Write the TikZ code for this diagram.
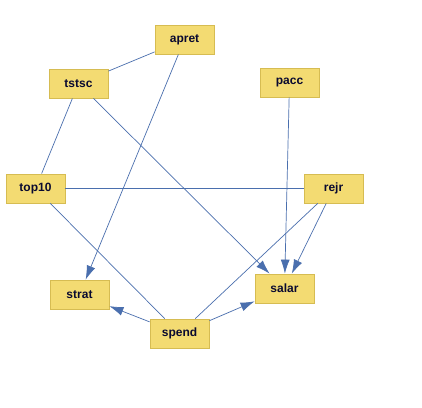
\documentclass[tikz,border=0pt]{standalone}
\usepackage{fontspec}
\setmainfont{Liberation Sans}
\usetikzlibrary{arrows.meta}
\definecolor{nodefill}{HTML}{F3DB72}
\definecolor{nodeedge}{HTML}{D6BC52}
\definecolor{edgecol}{HTML}{4A6FAE}
\definecolor{txtcol}{HTML}{0A0A30}
\begin{document}
\begin{tikzpicture}[x=1pt,y=-1pt,
  var/.style={draw=nodeedge,fill=nodefill,line width=0.8pt,minimum width=59pt,minimum height=29pt,inner sep=0pt,
    font=\fontsize{12}{14}\selectfont\bfseries,text=txtcol},
  link/.style={draw=edgecol,line width=0.7pt},
  arr/.style={link,-{Latex[length=14pt,width=9pt]}}]
\useasboundingbox[fill=white] (0,0) rectangle (422,407);
\node[var] (apret) at (184.5,39.5) {apret};
\node[var] (tstsc) at (78.5,83.5) {tstsc};
\node[var] (pacc) at (289.5,82.5) {pacc};
\node[var] (top10) at (35.5,188.5) {top10};
\node[var] (rejr) at (333.5,188.5) {rejr};
\node[var] (strat) at (79.5,294.5) {strat};
\node[var] (salar) at (284.5,288.5) {salar};
\node[var] (spend) at (179.5,333.5) {spend};
\draw[link] (apret) -- (tstsc);
\draw[arr] (apret) -- (strat);
\draw[link] (tstsc) -- (top10);
\draw[arr] (tstsc) -- (salar);
\draw[arr] (pacc) -- (salar);
\draw[link] (top10) -- (rejr);
\draw[link] (top10) -- (spend);
\draw[arr] (rejr) -- (salar);
\draw[link] (rejr) -- (spend);
\draw[arr] (spend) -- (strat);
\draw[arr] (spend) -- (salar);
\end{tikzpicture}
\end{document}
